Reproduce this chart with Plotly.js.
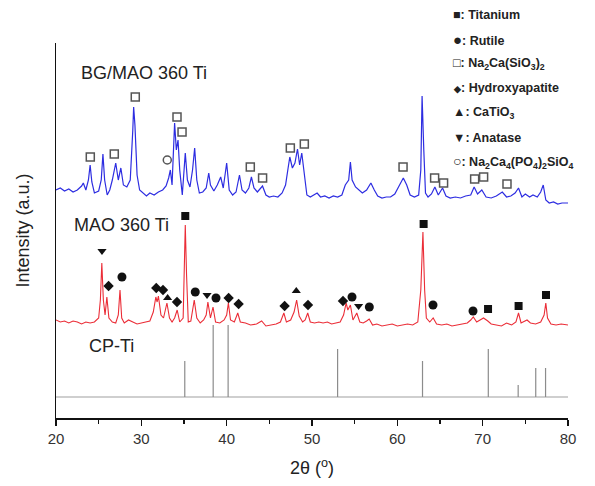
<!DOCTYPE html>
<html>
<head>
<meta charset="utf-8">
<script src="https://cdn.plot.ly/plotly-3.0.1.min.js"></script>
<style>html,body{margin:0;padding:0;background:#fff;}#chart{width:595px;height:486px;}</style>
</head>
<body>
<div id="chart"></div>
<script>
// ---------- DATA ----------
const blueTheta = [20.0,20.5,21.0,21.5,22.0,22.5,23.0,23.2,23.5,23.8,24.0,24.2,24.5,25.0,25.3,25.5,25.7,26.0,26.3,26.6,27.0,27.3,27.6,27.9,28.3,28.7,29.0,29.1,29.25,29.5,29.8,30.2,30.6,31.0,31.5,32.0,32.5,32.9,33.2,33.4,33.6,33.9,34.1,34.3,34.5,34.8,35.15,35.4,35.7,36.0,36.25,36.5,36.8,37.2,37.6,37.9,38.1,38.5,38.9,39.3,39.6,40.0,40.3,40.7,41.1,41.5,41.8,42.2,42.6,42.9,43.2,43.6,44.2,44.6,45.0,45.5,46.0,46.5,46.9,47.2,47.4,47.7,48.0,48.3,48.55,48.8,49.1,49.4,49.8,50.2,50.6,51.0,51.5,52.0,52.5,53.0,53.5,53.9,54.1,54.3,54.5,54.7,55.1,55.5,55.9,56.4,56.9,57.3,57.7,58.2,58.7,59.2,59.7,60.2,60.7,61.1,61.5,62.0,62.5,62.75,62.9,63.1,63.3,63.6,64.0,64.4,64.8,65.3,65.7,66.2,66.8,67.4,68.0,68.6,69.0,69.4,69.9,70.4,71.0,71.6,72.3,72.8,73.3,73.8,74.2,74.6,75.0,75.5,75.9,76.4,76.8,77.1,77.4,77.8,78.3,78.8,79.3,80.0];
const blueInt = [228,230,227,229,226,228,232,235,228,238,253,236,225,227,238,264,238,223,228,238,255,238,250,233,231,238,288,311,293,243,228,225,222,225,223,226,228,232,240,248,233,295,268,278,248,223,265,238,231,248,270,238,225,226,230,245,233,227,233,241,230,255,228,223,226,243,228,225,230,241,230,226,232,223,221,222,221,225,233,250,261,250,255,269,253,265,243,223,221,223,225,221,222,220,222,221,223,233,235,238,256,238,231,228,225,228,235,228,222,220,221,221,224,232,240,233,223,221,223,248,322,268,225,221,224,231,223,230,222,220,221,220,222,223,231,224,228,221,220,222,226,221,222,225,230,221,224,221,223,221,226,233,218,215,216,214,215,215];

const redTheta = [20.0,20.5,21.0,21.5,22.0,22.5,23.0,23.5,24.0,24.5,25.0,25.2,25.37,25.55,25.75,25.96,26.2,26.6,27.0,27.3,27.5,27.7,28.0,28.5,29.0,29.5,30.0,30.5,31.0,31.4,31.7,31.85,32.0,32.3,32.6,33.0,33.3,33.6,33.9,34.2,34.5,34.9,35.0,35.15,35.3,35.5,35.8,36.2,36.5,36.9,37.3,37.6,37.8,38.1,38.4,38.7,39.2,39.7,40.0,40.2,40.45,40.9,41.3,41.6,42.2,42.8,43.5,44.1,44.6,45.2,45.8,46.3,46.7,47.0,47.5,47.9,48.2,48.5,48.9,49.2,49.5,49.8,50.3,50.8,51.3,51.8,52.3,52.8,53.3,53.7,54.0,54.2,54.5,54.8,55.25,55.6,56.0,56.4,56.7,57.1,57.6,58.2,58.8,59.4,60.0,60.6,61.2,61.8,62.4,62.75,63.0,63.2,63.4,63.8,64.2,64.6,65.2,65.8,66.4,67.0,67.6,68.2,68.6,68.9,69.3,69.7,70.1,70.6,71.0,71.6,72.2,72.8,73.4,73.9,74.2,74.5,74.9,75.2,75.6,76.2,76.8,77.2,77.4,77.6,78.0,78.6,79.2,80.0];
const redInt = [98,96,97,95,97,96,94,96,95,96,100,118,155,118,103,121,100,96,95,103,128,100,95,98,96,94,95,96,97,106,121,116,122,103,100,115,100,96,100,108,96,100,148,193,143,96,97,118,100,95,98,103,116,100,111,96,95,98,103,115,98,96,105,96,95,93,94,97,92,93,94,96,105,96,98,106,118,102,96,98,105,96,95,96,95,96,94,95,96,103,115,108,113,98,105,96,95,97,99,93,94,92,93,94,92,93,94,93,96,128,186,128,100,96,100,94,93,94,92,93,94,95,98,101,96,98,100,97,94,93,92,95,93,96,105,95,97,98,95,94,96,103,115,100,94,93,94,93];

// CP-Ti reference pattern (stick lines)
const cpTiTheta = [35.09,38.42,40.17,53.00,62.95,70.66,74.16,76.22,77.37];
const cpTiTop   = [57,93,93,69,57,69,33,50,50];
const cpTiBase  = 21;

// Phase markers [2theta, intensity]
const naCaSiO3Pts = [[24.02,261],[26.83,264],[29.29,321],[34.18,301],[34.77,286],[42.77,251],[44.21,240],[47.46,270],[49.1,274],[60.67,251],[64.37,240],[65.42,235],[69.06,239],[70.11,241],[72.85,234]];
const naCaPO4Pts  = [[33.04,258]];
const titaniumPts = [[35.15,202],[63.08,194],[70.63,109],[74.21,112],[77.42,123]];
const rutilePts   = [[27.73,141],[36.32,126],[38.75,120],[54.69,121],[56.72,111],[64.18,113],[68.87,107]];
const hapPts      = [[26.16,132],[31.75,130],[32.54,128],[34.18,116],[40.23,120],[41.4,114],[46.79,112],[49.53,113],[53.63,117]];
const caTiO3Pts   = [[33.08,120],[48.16,127]];
const anatasePts  = [[25.39,167],[37.7,123],[55.46,112]];

const seriesLabels = ['BG/MAO 360 Ti','MAO 360 Ti','CP-Ti'];
const legendSymbols = ['■','●','□','◆','▲','▼','○'];
const legendSymbolSizes = [12.5,15,12.5,9,12.5,12.5,14];
const legendLabels = [
  ': Titanium',
  ': Rutile',
  ': Na<sub>2</sub>Ca(SiO<sub>3</sub>)<sub>2</sub>',
  ': Hydroxyapatite',
  ': CaTiO<sub>3</sub>',
  ': Anatase',
  ': Na<sub>2</sub>Ca<sub>4</sub>(PO<sub>4</sub>)<sub>2</sub>SiO<sub>4</sub>'
];
const xTickVals = [20,30,40,50,60,70,80];

// ---------- TRACES ----------
const traces = [];
traces.push({x:blueTheta, y:blueInt, type:'scatter', mode:'lines', line:{color:'rgb(45,45,225)', width:1.2}, hoverinfo:'skip'});
traces.push({x:redTheta, y:redInt, type:'scatter', mode:'lines', line:{color:'rgb(235,45,55)', width:1.1}, hoverinfo:'skip'});
traces.push({x:[20,80], y:[cpTiBase,cpTiBase], type:'scatter', mode:'lines', line:{color:'#a0a0a0', width:1.2}, hoverinfo:'skip'});
const sx=[], sy=[];
cpTiTheta.forEach((t,i)=>{sx.push(t,t,null); sy.push(cpTiBase,cpTiTop[i],null);});
traces.push({x:sx, y:sy, type:'scatter', mode:'lines', line:{color:'#8c8c8c', width:1.2}, hoverinfo:'skip'});

function mk(pts, symbol, size, color, lineColor, lineWidth){
  return {x:pts.map(p=>p[0]), y:pts.map(p=>p[1]), type:'scatter', mode:'markers', hoverinfo:'skip',
    marker:{symbol:symbol, size:size, color:color, line:{color:lineColor, width:lineWidth}}};
}
traces.push(mk(naCaSiO3Pts,'square',8,'#ffffff','#555555',1.5));
traces.push(mk(naCaPO4Pts,'circle',8,'#ffffff','#555555',1.5));
traces.push(mk(titaniumPts,'square',8,'#111111','#111111',0));
traces.push(mk(rutilePts,'circle',9,'#111111','#111111',0));
traces.push(mk(hapPts,'diamond',8,'#111111','#111111',0));
traces.push(mk(caTiO3Pts,'triangle-up',8,'#111111','#111111',0));
traces.push(mk(anatasePts,'triangle-down',8,'#111111','#111111',0));

// ---------- LAYOUT ----------
const W=595,H=486,L=56,R=27,T=43,B=68;
const pw=W-L-R, ph=H-T-B;
const px2x = px => (px-L)/pw;
const py2y = py => (H-B-py)/ph;

const annotations = [];
const labelPos = [[79,73],[72,225],[87,346]];
seriesLabels.forEach((s,i)=>{
  annotations.push({xref:'paper',yref:'paper',x:px2x(labelPos[i][0]),y:py2y(labelPos[i][1]),xanchor:'left',yanchor:'middle',
    text:s,showarrow:false,font:{size:18,color:'#222'}});
});
legendLabels.forEach((s,i)=>{
  annotations.push({xref:'paper',yref:'paper',x:px2x(451),y:py2y(15+i*24.5),xanchor:'left',yanchor:'middle',
    text:'<b><span style="font-size:'+legendSymbolSizes[i]+'px">'+legendSymbols[i]+'</span>'+s+'</b>',
    showarrow:false,font:{size:12.5,color:'#222'}});
});

const layout = {
  width:W,height:H,
  margin:{l:L,r:R,t:T,b:B},
  paper_bgcolor:'#ffffff',plot_bgcolor:'#ffffff',
  showlegend:false,
  font:{family:'Arial, "Liberation Sans", sans-serif',color:'#222'},
  xaxis:{range:[20,80],tickmode:'array',tickvals:xTickVals,ticks:'outside',ticklen:6,tickwidth:1.5,tickcolor:'#111',
    showline:true,linecolor:'#111',linewidth:1.5,showgrid:false,zeroline:false,
    tickfont:{size:15,color:'#333'},
    minor:{dtick:5,tick0:20,ticks:'outside',ticklen:4,tickwidth:1.5,tickcolor:'#111',showgrid:false},
    title:{text:'2θ (<sup>o</sup>)',font:{size:18,color:'#222'},standoff:16}},
  yaxis:{range:[0,375],showline:true,linecolor:'#111',linewidth:1.5,ticks:'',showticklabels:false,showgrid:false,zeroline:false,
    title:{text:'Intensity (a.u.)',font:{size:18,color:'#222'},standoff:20}},
  annotations:annotations
};

Plotly.newPlot('chart',traces,layout,{displayModeBar:false,staticPlot:true});
</script>
</body>
</html>
